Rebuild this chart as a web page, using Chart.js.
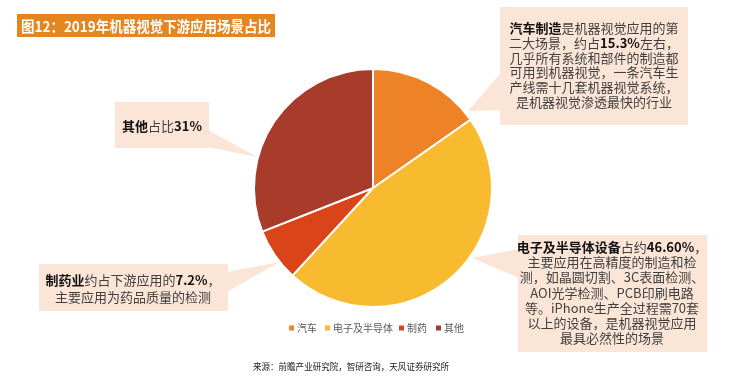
<!DOCTYPE html>
<html><head><meta charset="utf-8">
<script src="https://cdn.jsdelivr.net/npm/chart.js@4/dist/chart.umd.min.js"></script>
<style>html,body{margin:0;padding:0;background:#fff}#wrap{width:740px;height:383px;position:relative}</style>
</head><body><div id="wrap"><canvas id="c" width="740" height="383"></canvas></div>
<script>
const categories = ['汽车', '电子及半导体', '制药', '其他'];
const shares = [15.3, 46.6, 7.2, 31];
const colors = ['#EE8226', '#F8BA2F', '#DA4419', '#A93B2B'];
const titleText = '图12：2019年机器视觉下游应用场景占比';
const sourceText = '来源：前瞻产业研究院，智研咨询，天风证券研究所';
const noteCar = [[['汽车制造',1],['是机器视觉应用的第',0]],[['二大场景，约占',0],['15.3%',1],['左右，',0]],[['几乎所有系统和部件的制造都',0]],[['可用到机器视觉，一条汽车生',0]],[['产线需十几套机器视觉系统，',0]],[['是机器视觉渗透最快的行业',0]]];
const noteElec = [[['电子及半导体设备',1],['占约',0],['46.60%',1],['，',0]],[['主要应用在高精度的制造和检',0]],[['测，如晶圆切割、3C表面检测、',0]],[['AOI光学检测、PCB印刷电路',0]],[['等。iPhone生产全过程需70套',0]],[['以上的设备，是机器视觉应用',0]],[['最具必然性的场景',0]]];
const noteOther = [[['其他',1],['占比',0],['31%',1]]];
const notePharma = [[['制药业',1],['约占下游应用的',0],['7.2%',1],['，',0]],[['主要应用为药品质量的检测',0]]];

const FONT = '"Noto Sans CJK SC", "Noto Sans", sans-serif';
const PEACH = '#FBE5D6';

function callout(ctx, box, ptr, lines, cx, y0, lh) {
  ctx.save();
  ctx.fillStyle = PEACH;
  ctx.fillRect(box[0], box[1], box[2]-box[0], box[3]-box[1]);
  ctx.beginPath();
  ctx.moveTo(ptr[0][0], ptr[0][1]);
  ctx.lineTo(ptr[1][0], ptr[1][1]);
  ctx.lineTo(ptr[2][0], ptr[2][1]);
  ctx.closePath();
  ctx.fill();
  ctx.textBaseline = 'middle';
  ctx.textAlign = 'left';
  lines.forEach((runs, i) => {
    let w = 0;
    runs.forEach(r => { ctx.font = (r[1] ? 'bold ' : '') + '13px ' + FONT; w += ctx.measureText(r[0]).width; });
    let x = cx - w/2;
    const y = y0 + i*lh;
    runs.forEach(r => {
      ctx.font = (r[1] ? 'bold ' : '') + '13px ' + FONT;
      ctx.fillStyle = r[1] ? '#111' : '#404040';
      ctx.fillText(r[0], x, y);
      x += ctx.measureText(r[0]).width;
    });
  });
  ctx.restore();
}

const decor = {
  id: 'decor',
  beforeDraw(chart) {
    const ctx = chart.ctx;
    ctx.save();
    ctx.fillStyle = '#fff';
    ctx.fillRect(0, 0, chart.width, chart.height);
    // title
    ctx.fillStyle = '#E3861F';
    ctx.fillRect(17, 14, 258, 23);
    ctx.fillStyle = '#fff';
    ctx.font = 'bold 15px ' + FONT;
    ctx.textBaseline = 'middle';
    ctx.fillText(titleText, 21, 26, 250);
    ctx.restore();
    callout(ctx, [500, 7, 688, 125], [[468, 111], [501, 73], [501, 110]], noteCar, 594, 28, 14.8);
    callout(ctx, [115, 102, 209, 148], [[257, 157], [208, 130], [208, 147]], noteOther, 162, 126, 15);
    callout(ctx, [39, 264, 228, 311], [[280, 262], [227, 272], [227, 292]], notePharma, 133, 280, 17);
    callout(ctx, [518, 235, 707, 352], [[472, 258], [519, 249], [519, 278]], noteElec, 612, 247, 15.2);
  },
  afterDraw(chart) {
    const ctx = chart.ctx;
    ctx.save();
    // legend from chart data
    const xs = [289, 325, 399, 436];
    const y = 328;
    ctx.font = '10px ' + FONT;
    ctx.textBaseline = 'middle';
    chart.data.labels.forEach((lab, i) => {
      ctx.fillStyle = chart.data.datasets[0].backgroundColor[i];
      ctx.fillRect(xs[i], y - 2.5, 5, 5);
      ctx.fillStyle = '#595959';
      ctx.fillText(lab, xs[i] + 8, y);
    });
    ctx.font = '9px "Noto Sans CJK SC", serif';
    ctx.fillStyle = '#222';
    ctx.fillText(sourceText, 253, 367, 196);
    ctx.restore();
  }
};

new Chart(document.getElementById('c'), {
  type: 'pie',
  data: {
    labels: categories,
    datasets: [{ data: shares, backgroundColor: colors, borderColor: '#fff', borderWidth: 2 }]
  },
  options: {
    responsive: false,
    animation: false,
    layout: { padding: { left: 253, right: 247, top: 68, bottom: 75 } },
    plugins: { legend: { display: false }, tooltip: { enabled: false } }
  },
  plugins: [decor]
});
</script></body></html>
